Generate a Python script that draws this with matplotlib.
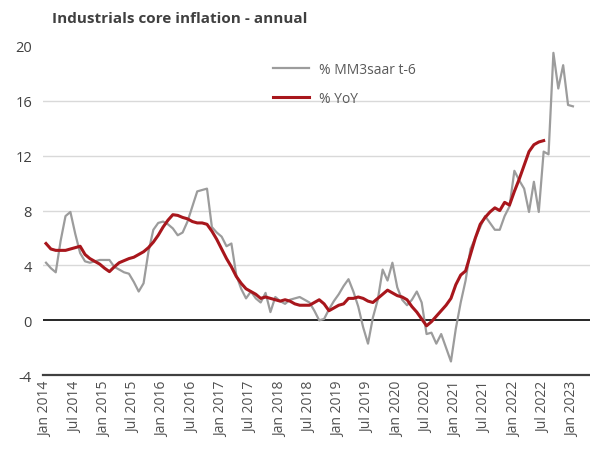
import matplotlib
matplotlib.use("Agg")
import matplotlib.pyplot as plt
import numpy as np

# Monthly series, month 0 = Jan 2014
mm3saar = [4.2, 3.8, 3.5, 5.8, 7.6, 7.9, 6.3, 4.9, 4.3, 4.2, 4.3, 4.4,
           4.4, 4.4, 3.9, 3.7, 3.5, 3.4, 2.8, 2.1, 2.7, 5.0, 6.6, 7.1,
           7.2, 7.0, 6.7, 6.2, 6.4, 7.2, 8.3, 9.4, 9.5, 9.6, 6.8, 6.4,
           6.1, 5.4, 5.6, 3.3, 2.3, 1.6, 2.1, 1.6, 1.3, 2.0, 0.6, 1.7,
           1.4, 1.2, 1.5, 1.6, 1.7, 1.5, 1.3, 0.7, 0.0, 0.1, 0.8, 1.4,
           1.9, 2.5, 3.0, 2.1, 1.0, -0.5, -1.7, 0.2, 1.5, 3.7, 2.9, 4.2,
           2.4, 1.5, 1.1, 1.5, 2.1, 1.3, -1.0, -0.9, -1.7, -1.0, -2.0, -3.0,
           -0.6, 1.3, 2.9, 5.2, 6.0, 6.8, 7.6, 7.1, 6.6, 6.6, 7.6, 8.3,
           10.9, 10.2, 9.6, 7.9, 10.1, 7.9, 12.3, 12.1, 19.5, 16.9, 18.6, 15.7,
           15.6]

yoy = [5.6, 5.2, 5.1, 5.1, 5.1, 5.2, 5.3, 5.4, 4.8, 4.5, 4.3, 4.1,
       3.8, 3.55, 3.9, 4.2, 4.35, 4.5, 4.6, 4.8, 5.0, 5.3, 5.7, 6.2,
       6.8, 7.3, 7.7, 7.65, 7.5, 7.4, 7.2, 7.1, 7.1, 7.0, 6.5, 5.9,
       5.2, 4.5, 3.9, 3.2, 2.7, 2.3, 2.1, 1.9, 1.6, 1.7, 1.6, 1.5,
       1.4, 1.5, 1.4, 1.2, 1.1, 1.1, 1.1, 1.3, 1.5, 1.2, 0.7, 0.9,
       1.1, 1.2, 1.6, 1.6, 1.7, 1.6, 1.4, 1.3, 1.6, 1.9, 2.2, 2.0,
       1.8, 1.7, 1.5, 1.0, 0.6, 0.1, -0.4, -0.1, 0.3, 0.7, 1.1, 1.6,
       2.6, 3.3, 3.6, 4.8, 6.0, 7.0, 7.5, 7.9, 8.2, 8.0, 8.6, 8.4,
       9.4, 10.3, 11.3, 12.3, 12.8, 13.0, 13.1]

tick_labels = ["Jan 2014", "Jul 2014", "Jan 2015", "Jul 2015", "Jan 2016",
               "Jul 2016", "Jan 2017", "Jul 2017", "Jan 2018", "Jul 2018",
               "Jan 2019", "Jul 2019", "Jan 2020", "Jul 2020", "Jan 2021",
               "Jul 2021", "Jan 2022", "Jul 2022", "Jan 2023"]
y_ticks = [-4, 0, 4, 8, 12, 16, 20]

title = "Industrials core inflation - annual"
label_gray = "% MM3saar t-6"
label_red = "% YoY"

plt.rcParams['font.family'] = ['Open Sans', 'DejaVu Sans']

fig = plt.figure(figsize=(5.9, 4.56), dpi=100)
ax = fig.add_axes([0.073, 0.175, 0.927, 0.722])

x_gray = np.arange(len(mm3saar))
x_red = np.arange(len(yoy))

for yv in [4, 8, 12, 16]:
    ax.axhline(yv, color="#d9d9d9", lw=1.0, zorder=1)
ax.axhline(0, color="#262626", lw=1.4, zorder=2)

ax.plot(x_gray, mm3saar, color="#9c9c9c", lw=1.6, label=label_gray, zorder=3)
ax.plot(x_red, yoy, color="#a8161c", lw=2.2, label=label_red, zorder=4)

ax.set_xlim(-0.6, 111.5)
ax.set_ylim(-4, 20)
ax.set_yticks(y_ticks)
ax.set_yticklabels([str(v) for v in y_ticks], fontsize=10.5, color="#404040")
ax.set_xticks(np.arange(0, 6 * len(tick_labels), 6))
ax.set_xticklabels(tick_labels, rotation=90, fontsize=10, color="#505050")
ax.tick_params(axis="both", length=0, pad=4)
ax.tick_params(axis="y", pad=8)

for s in ["top", "right", "left"]:
    ax.spines[s].set_visible(False)
ax.spines["bottom"].set_color("#404040")
ax.spines["bottom"].set_linewidth(1.6)

leg = ax.legend(loc="upper left", bbox_to_anchor=(0.41, 0.968), frameon=False,
                fontsize=10, handlelength=2.6, labelspacing=1.0,
                handletextpad=0.7, borderaxespad=0)
for t in leg.get_texts():
    t.set_color("#595959")

fig.text(0.088, 0.958, title, fontsize=11, fontweight="bold", color="#404040",
         ha="left", va="center")

fig.savefig("out.png", dpi=100)
